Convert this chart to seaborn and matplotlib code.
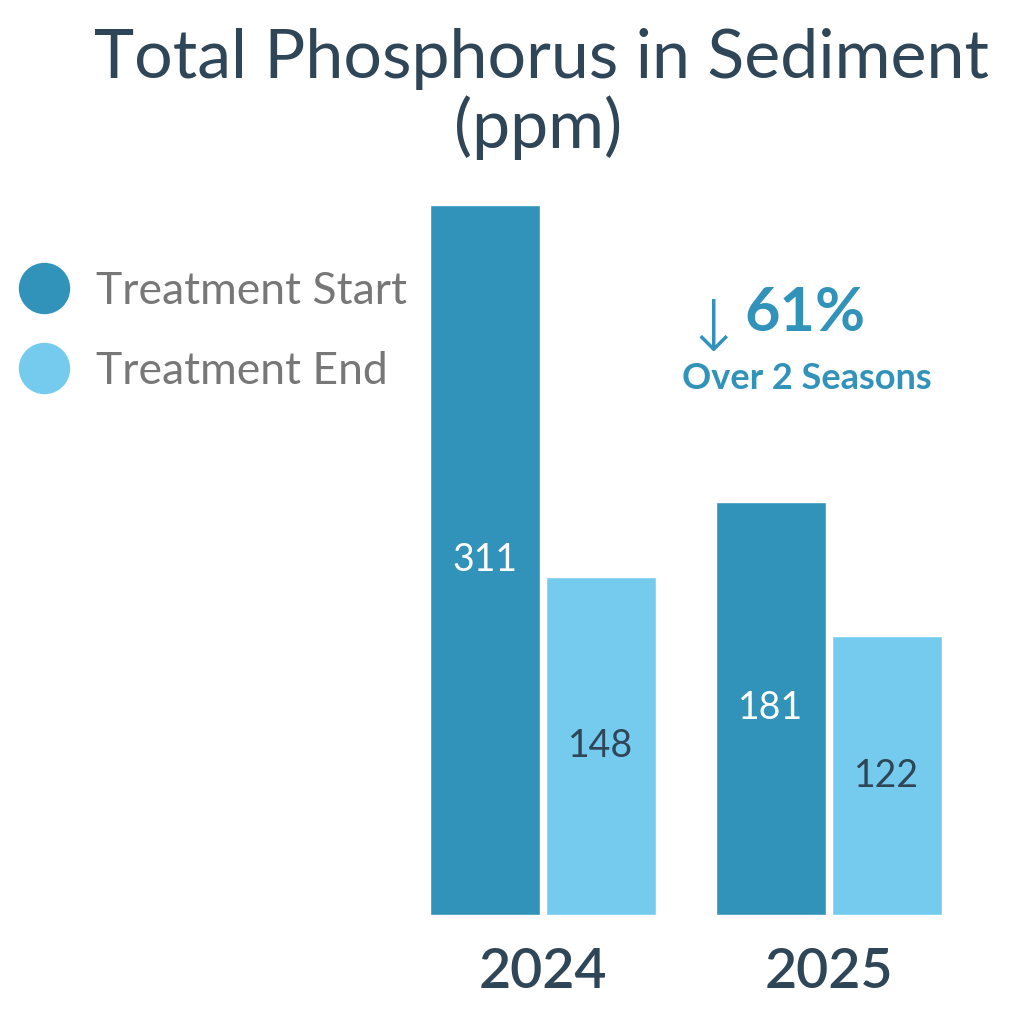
import matplotlib
matplotlib.use('Agg')
import matplotlib.pyplot as plt
import seaborn as sns
import pandas as pd
from matplotlib.lines import Line2D

# chart data
years = ['2024', '2025']
stages = ['Treatment Start', 'Treatment End']
start_values = [311, 181]
end_values = [148, 122]
title_line1 = 'Total Phosphorus in Sediment'
title_line2 = '(ppm)'
change_pct = '61%'
change_note = 'Over 2 Seasons'

dark_blue = '#3192BA'
light_blue = '#75CBEE'
slate = '#2F4558'
grey = '#777777'

df = pd.DataFrame({
    'Year': years * 2,
    'Stage': [stages[0]] * len(years) + [stages[1]] * len(years),
    'Value': start_values + end_values,
})

sns.set_theme(style='white')
plt.rcParams['font.family'] = ['Lato', 'DejaVu Sans']

fig = plt.figure(figsize=(10.24, 10.24), dpi=100)
ax = fig.add_axes([400 / 1024, 1 - 915 / 1024, 572 / 1024, 710 / 1024])

sns.barplot(data=df, x='Year', y='Value', hue='Stage', order=years, hue_order=stages,
            palette=[dark_blue, light_blue], saturation=1, width=0.811, gap=0.05,
            legend=False, ax=ax)

ax.set_xlim(-0.5, 1.5)
ax.set_ylim(0, max(start_values))
ax.set_xlabel('')
ax.set_ylabel('')
ax.set_yticks([])
sns.despine(ax=ax, left=True, bottom=True)
ax.tick_params(axis='x', length=0, pad=23, labelsize=40, labelcolor=slate)
for lbl in ax.get_xticklabels():
    lbl.set_fontweight('semibold')

# values in the middle of each bar
label_colors = ['white', slate]
for cont, col in zip(ax.containers, label_colors):
    ax.bar_label(cont, label_type='center', fontsize=27, color=col)

# title
fig.text(541 / 1024, 1 - 78 / 1024, title_line1, ha='center', va='baseline',
         fontsize=49, color=slate)
fig.text(538 / 1024, 1 - 148 / 1024, title_line2, ha='center', va='baseline',
         fontsize=49, color=slate)

# legend
handles = [Line2D([], [], linestyle='none', marker='o', markersize=37,
                  markerfacecolor=c, markeredgecolor='none')
           for c in [dark_blue, light_blue]]
fig.legend(handles, stages, loc='upper left', bbox_to_anchor=(0.0, 1 - 253 / 1024),
           frameon=False, fontsize=32, labelcolor=grey, handletextpad=0.55,
           labelspacing=0.88, borderaxespad=0, handlelength=1.2)

# change callout
fig.text(713 / 1024, 1 - 351 / 1024, '\u2193', ha='center', va='baseline',
         fontsize=51, color=dark_blue, family=['DejaVu Sans'], fontweight='light')
fig.text(805 / 1024, 1 - 331 / 1024, change_pct, ha='center', va='baseline',
         fontsize=44, fontweight='bold', color=dark_blue)
fig.text(807 / 1024, 1 - 389 / 1024, change_note, ha='center', va='baseline',
         fontsize=26, fontweight='bold', color=dark_blue)

fig.savefig('out.png', dpi=100, facecolor='white')
